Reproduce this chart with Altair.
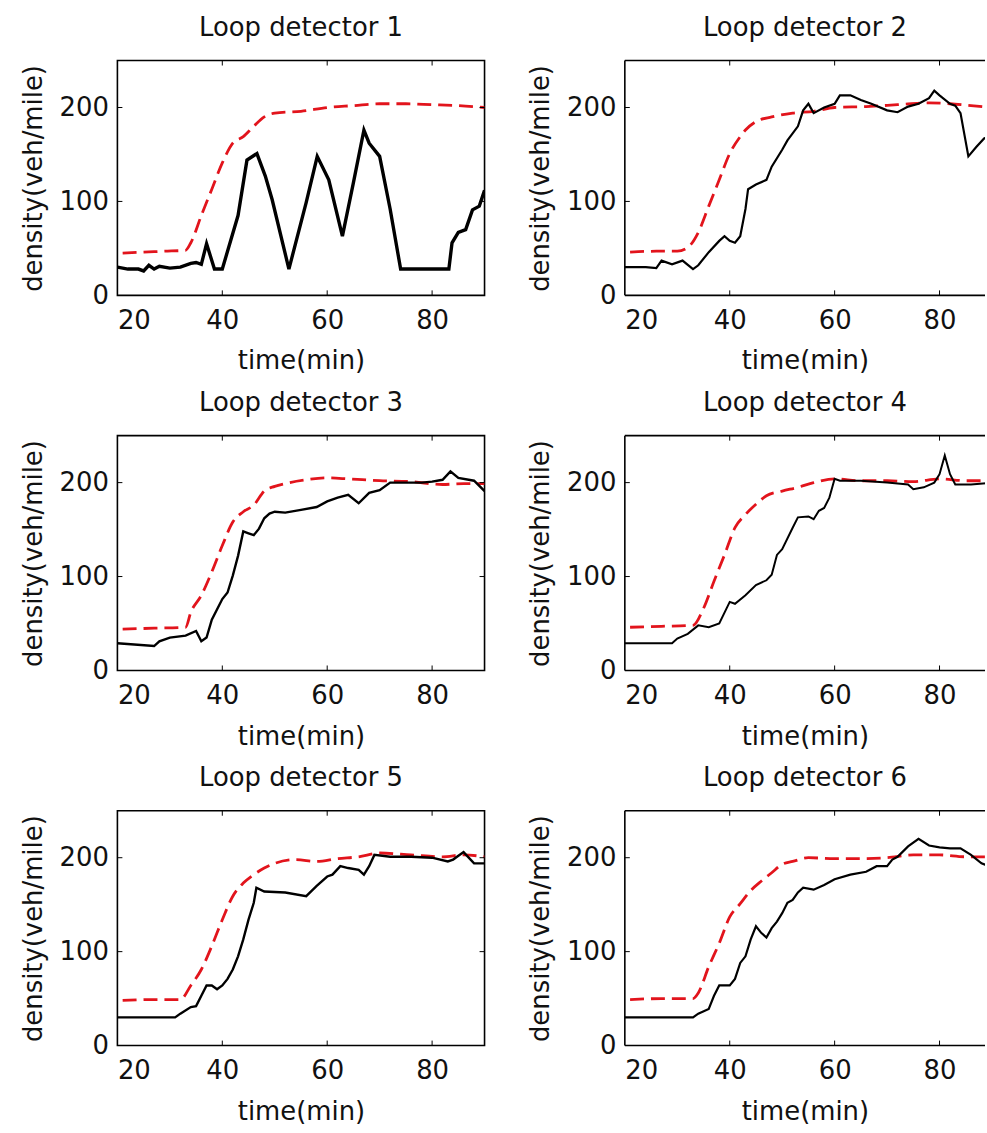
import altair as alt
import pandas as pd

# ---------------- data ----------------
titles = ["Loop detector 1", "Loop detector 2", "Loop detector 3",
          "Loop detector 4", "Loop detector 5", "Loop detector 6"]

# detector 1
t1k = [20, 22, 24, 25, 26, 27, 28, 30, 32, 34, 35, 36, 37, 38.5, 40, 43, 44.7, 46.6, 48.2, 49.5, 52.7, 56,
       58.1, 60.3, 62.9, 65, 67, 68, 70, 72, 74, 78, 83.2, 83.8, 85, 86.4, 87.7, 89, 90]
v1k = [30, 28, 28, 26, 32, 28, 31, 29, 30, 34, 35, 33, 55, 28, 28, 85, 144, 151, 127, 102, 28, 99,
       148, 123, 63, 120, 176, 162, 148, 92, 28, 28, 28, 56, 67, 70, 91, 95, 112]
t1r = [21, 25, 29, 33, 34, 36, 38, 40, 42, 44, 46, 48, 50, 55, 60, 65, 70, 75, 80, 85, 90]
v1r = [45, 46, 47, 48, 56, 85, 113, 141, 162, 169, 180, 190, 194, 196, 200, 202, 204, 204, 203, 202, 200]

# detector 2
t2k = [20, 24, 26, 27, 29, 31, 33, 34, 36, 38, 39, 40, 41, 42, 43, 43.5, 45, 47, 48, 50, 51, 53, 54, 55,
       56, 58, 60, 61, 63, 65, 67, 70, 72, 74, 76, 78, 79, 80, 82, 83, 84, 85.5, 87, 88.5, 90]
v2k = [30, 30, 29, 37, 33, 37, 28, 32, 46, 58, 63, 58, 56, 63, 92, 113, 118, 123, 137, 155, 165, 180, 197, 204,
       194, 200, 204, 213, 213, 208, 204, 197, 195, 201, 204, 210, 218, 213, 204, 202, 194, 148, 158, 167, 171]
t2r = [21, 26, 30, 32, 34, 36, 38, 40, 42, 43, 45, 48, 52, 56, 60, 66, 72, 78, 82, 86, 90]
v2r = [46, 47, 47, 51, 67, 95, 123, 151, 169, 176, 185, 190, 194, 196, 200, 201, 203, 205, 204, 202, 200]

# detector 3
t3k = [20, 27, 28, 30, 33, 35, 36, 37, 38, 40, 41, 42, 43, 44, 45, 46, 47, 48, 49, 50, 52, 55, 58, 60,
       62, 64, 66, 68, 70, 72, 75, 78, 80, 82, 83.5, 85, 88, 90]
v3k = [29, 26, 31, 35, 37, 42, 31, 35, 54, 76, 83, 101, 122, 148, 146, 144, 151, 162, 167, 169, 168, 171, 174, 180,
       184, 187, 178, 189, 192, 200, 200, 200, 201, 203, 212, 205, 202, 191]
t3r = [21, 27, 33, 34, 36, 38, 40, 42, 44, 46, 48, 50, 52, 56, 60, 64, 70, 76, 82, 86, 90]
v3r = [44, 45, 46, 62, 80, 105, 133, 158, 169, 176, 191, 196, 199, 203, 205, 204, 202, 201, 198, 199, 199]

# detector 4
t4k = [20, 29, 30, 32, 34, 36, 38, 40, 41, 43, 45, 47, 48, 49, 50, 52, 53, 55, 56, 57, 58, 59, 60, 61,
       65, 70, 74, 75, 77, 79, 80, 81, 82, 83, 86, 90]
v4k = [29, 29, 34, 39, 48, 46, 50, 73, 71, 80, 91, 96, 102, 123, 129, 152, 163, 164, 161, 170, 173, 184, 204, 202,
       202, 200, 198, 193, 195, 200, 209, 229, 209, 198, 198, 200]
t4r = [21, 27, 33, 35, 37, 39, 41, 43, 45, 47, 50, 53, 56, 60, 65, 70, 75, 80, 85, 90]
v4r = [46, 47, 48, 66, 95, 123, 152, 166, 177, 186, 191, 195, 200, 204, 202, 202, 201, 204, 202, 202]

# detector 5
t5k = [20, 31, 32, 34, 35, 36, 37, 38, 39, 40, 41, 42, 43, 44, 45, 46, 46.5, 48, 52, 56, 58, 60, 61, 62.5,
       64, 66, 67, 68, 69, 72, 76, 80, 83, 84, 86, 88, 90]
v5k = [30, 30, 34, 41, 42, 53, 64, 64, 60, 64, 71, 81, 95, 113, 134, 152, 168, 164, 163, 159, 170, 180, 182, 191,
       189, 187, 182, 191, 203, 201, 201, 200, 196, 198, 206, 194, 194]
t5r = [21, 27, 32, 34, 36, 38, 40, 42, 44, 46, 48, 50, 54, 58, 62, 66, 70, 76, 82, 86, 90]
v5r = [48, 49, 49, 64, 81, 106, 134, 159, 173, 182, 189, 194, 198, 196, 199, 201, 205, 203, 201, 203, 201]

# detector 6
t6k = [20, 33, 34, 36, 37, 38, 40, 41, 42, 43, 44, 45, 46, 47, 48, 49, 50, 51, 52, 53, 54, 56, 58, 60,
       63, 66, 68, 70, 71, 72, 74, 76, 78, 80, 82, 84, 86, 88, 90]
v6k = [30, 30, 34, 39, 53, 64, 64, 71, 88, 95, 113, 127, 120, 115, 125, 132, 141, 152, 155, 163, 168, 166, 171, 177,
       182, 185, 191, 191, 198, 201, 212, 220, 213, 211, 210, 210, 203, 194, 190]
t6r = [21, 27, 33, 34, 36, 38, 40, 42, 44, 46, 48, 50, 52, 55, 60, 65, 70, 75, 80, 85, 90]
v6r = [49, 50, 50, 56, 84, 109, 137, 151, 165, 175, 184, 193, 196, 200, 199, 199, 200, 203, 203, 201, 201]

black_series = [(t1k, v1k), (t2k, v2k), (t3k, v3k), (t4k, v4k), (t5k, v5k), (t6k, v6k)]
red_series = [(t1r, v1r), (t2r, v2r), (t3r, v3r), (t4r, v4r), (t5r, v5r), (t6r, v6r)]
black_width = [3.4, 2.2, 2.4, 2.0, 2.4, 2.2]

x_ticks = [20, 40, 60, 80]
y_ticks = [0, 100, 200]
x_domain = [20, 90]
y_domain = [0, 250]

# ---------------- layout / style ----------------
W, H = 369, 236          # full panel (left column)
W_CUT = 362              # right column: the page cuts the panel off at the window edge
FONT = "DejaVu Sans"
RED = "#e2141c"
TICK = 5
FS = 26
FRAME = 1.6

yscale = alt.Scale(domain=y_domain, nice=False, zero=False)
xaxis = alt.Axis(values=x_ticks, title="time(min)", format="d")
yaxis = alt.Axis(values=y_ticks, title="density(veh/mile)", format="d")


def panel(i, cut):
    w = W_CUT if cut else W
    x_hi = x_domain[0] + (x_domain[1] - x_domain[0]) * w / W
    xscale = alt.Scale(domain=[x_domain[0], x_hi], nice=False, zero=False)

    tk, vk = black_series[i]
    tr, vr = red_series[i]
    dk = pd.DataFrame({"t": tk, "v": vk})
    dr = pd.DataFrame({"t": tr, "v": vr})
    xt = pd.DataFrame({"t": x_ticks[1:]})
    yt = pd.DataFrame({"v": y_ticks[1:]})
    one = pd.DataFrame({"k": [0]})

    X = alt.X("t:Q", scale=xscale, axis=xaxis)
    Y = alt.Y("v:Q", scale=yscale, axis=yaxis)

    red = alt.Chart(dr).mark_line(color=RED, strokeWidth=2.8, strokeDash=[14, 7],
                                  interpolate="monotone", clip=True).encode(x=X, y=Y)
    black = alt.Chart(dk).mark_line(color="black", strokeWidth=black_width[i],
                                    clip=True).encode(x=X, y=Y)
    xb = alt.Chart(xt).mark_rule(color="black", strokeWidth=1).encode(
        x=X, y=alt.value(H - TICK), y2=alt.value(H))
    xtp = alt.Chart(xt).mark_rule(color="black", strokeWidth=1).encode(
        x=X, y=alt.value(0), y2=alt.value(TICK))
    yl = alt.Chart(yt).mark_rule(color="black", strokeWidth=1).encode(
        y=Y, x=alt.value(0), x2=alt.value(TICK))
    layers = [red, black, xb, xtp, yl]

    props = dict(
        width=w, height=H,
        title=alt.TitleParams(titles[i], fontSize=FS, font=FONT, fontWeight="normal",
                              color="#111111", offset=19, anchor="middle"),
    )
    if cut:
        # frame on three sides only: the right side lies outside the window
        fr = dict(color="black", strokeWidth=FRAME)
        top = alt.Chart(one).mark_rule(**fr).encode(
            x=alt.value(0), x2=alt.value(w), y=alt.value(0))
        bot = alt.Chart(one).mark_rule(**fr).encode(
            x=alt.value(0), x2=alt.value(w), y=alt.value(H))
        lef = alt.Chart(one).mark_rule(**fr).encode(
            x=alt.value(0), y=alt.value(0), y2=alt.value(H))
        layers += [top, bot, lef]
        props["view"] = alt.ViewBackground(stroke="transparent")
    else:
        yr = alt.Chart(yt).mark_rule(color="black", strokeWidth=1).encode(
            y=Y, x=alt.value(W - TICK), x2=alt.value(W))
        layers.append(yr)

    return alt.layer(*layers).properties(**props)


rows = [alt.hconcat(panel(2 * r, False), panel(2 * r + 1, True), spacing=40) for r in range(3)]
chart = alt.vconcat(*rows, spacing=14).properties(
    padding={"left": 19, "top": 11, "right": 0, "bottom": 0},
    background="white",
).configure_view(
    stroke="black", strokeWidth=FRAME
).configure_axis(
    grid=False, domain=False, ticks=False,
    labelFont=FONT, titleFont=FONT, labelFontSize=FS, titleFontSize=FS,
    titleFontWeight="normal", labelColor="#111111", titleColor="#111111",
).configure_axisX(
    labelPadding=12, titlePadding=15,
).configure_axisY(
    labelPadding=9, titlePadding=13,
)

chart.save("out.html", embed_options={"renderer": "svg", "actions": False})
